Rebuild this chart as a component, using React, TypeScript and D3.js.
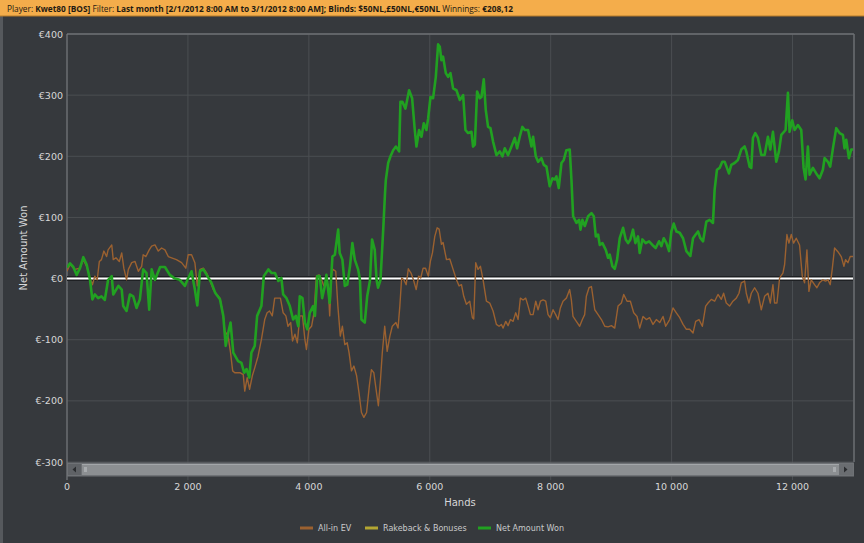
import * as d3 from 'd3'

// Data (hands, euros)
const netAmountWon: [number, number][] = [
  [0, 18], [50, 25], [105, 19], [160, 6], [215, 17], [270, 35], [325, 23], [380, -2], [420, -34], [460, -26],
  [515, -32], [570, -29], [625, -35], [680, -2], [740, 4], [765, -26], [850, -12], [905, -18], [930, -45], [985, -53],
  [1040, -26], [1095, -29], [1150, -48], [1205, -34], [1260, 15], [1315, 9], [1360, -51], [1400, 15], [1455, -2], [1540, 19],
  [1620, 19], [1700, 6], [1785, 0], [1865, -2], [1950, -12], [2005, 1], [2060, 12], [2115, -18], [2155, -44], [2200, 12],
  [2255, 15], [2310, 6], [2390, -7], [2450, -23], [2530, -34], [2585, -61], [2625, -110], [2665, -89], [2705, -72], [2750, -121],
  [2830, -135], [2885, -138], [2930, -154], [2970, -148], [3015, -162], [3050, -121], [3105, -110], [3145, -61], [3215, -45], [3255, 4],
  [3330, 15], [3385, 9], [3440, 9], [3495, -4], [3545, 1], [3575, -26], [3630, -32], [3685, -45], [3740, -67], [3785, -61],
  [3825, -78], [3850, -29], [3895, -32], [3935, -72], [3975, -83], [4015, -56], [4070, -45], [4100, -61], [4140, 4], [4180, 4],
  [4220, -32], [4265, -12], [4290, 6], [4345, -40], [4390, 36], [4430, 39], [4485, 80], [4510, 42], [4555, 31], [4595, -12],
  [4635, -10], [4680, 20], [4720, 58], [4760, 31], [4815, 15], [4845, -2], [4870, -67], [4925, -72], [4965, -29], [5010, -4],
  [5045, 64], [5090, 47], [5120, -2], [5145, -15], [5185, -2], [5230, 80], [5260, 140], [5273, 161], [5312, 189], [5350, 200],
  [5395, 210], [5440, 216], [5493, 208], [5515, 289], [5548, 289], [5598, 278], [5658, 308], [5708, 295], [5752, 243], [5780, 216],
  [5823, 243], [5863, 232], [5901, 254], [5945, 243], [5973, 262], [6012, 297], [6055, 295], [6100, 330], [6138, 383], [6166, 379],
  [6193, 357], [6220, 363], [6265, 336], [6303, 330], [6342, 336], [6386, 311], [6441, 308], [6497, 292], [6552, 300], [6590, 243],
  [6634, 238], [6690, 240], [6716, 216], [6745, 219], [6783, 306], [6827, 295], [6855, 297], [6893, 326], [6926, 276], [6964, 248],
  [7004, 246], [7047, 224], [7103, 202], [7158, 208], [7202, 200], [7240, 213], [7295, 202], [7351, 216], [7406, 230], [7444, 213],
  [7488, 232], [7532, 248], [7571, 243], [7626, 243], [7682, 216], [7709, 232], [7753, 200], [7792, 191], [7847, 197], [7885, 186],
  [7930, 183], [7984, 151], [8028, 164], [8067, 162], [8095, 167], [8133, 148], [8178, 189], [8216, 194], [8260, 210], [8315, 211],
  [8343, 162], [8371, 102], [8426, 91], [8470, 96], [8492, 80], [8525, 96], [8564, 86], [8619, 102], [8674, 107], [8713, 102],
  [8746, 69], [8784, 72], [8812, 55], [8856, 58], [8911, 47], [8949, 34], [8977, 39], [9021, 20], [9060, 16], [9098, 31],
  [9142, 66], [9197, 83], [9241, 64], [9280, 58], [9318, 64], [9362, 80], [9401, 58], [9445, 69], [9472, 42], [9516, 64],
  [9571, 58], [9627, 61], [9682, 55], [9737, 50], [9792, 61], [9831, 53], [9870, 66], [9914, 58], [9958, 45], [9996, 77],
  [10035, 90], [10079, 77], [10134, 75], [10189, 66], [10244, 45], [10310, 37], [10354, 66], [10398, 72], [10437, 77], [10476, 66],
  [10520, 61], [10574, 93], [10629, 96], [10684, 91], [10711, 145], [10750, 178], [10794, 181], [10838, 191], [10877, 191], [10915, 181],
  [10948, 172], [10987, 186], [11042, 189], [11097, 194], [11152, 211], [11207, 216], [11235, 208], [11290, 183], [11318, 181], [11345, 230],
  [11384, 238], [11428, 230], [11483, 202], [11538, 202], [11593, 232], [11632, 211], [11676, 240], [11703, 216], [11731, 191], [11775, 208],
  [11814, 235], [11885, 243], [11924, 304], [11951, 240], [11995, 259], [12034, 243], [12089, 251], [12144, 243], [12183, 181], [12216, 162],
  [12254, 216], [12282, 170], [12337, 181], [12392, 172], [12447, 164], [12502, 178], [12530, 197], [12585, 191], [12623, 183], [12668, 213],
  [12723, 246], [12778, 238], [12833, 235], [12860, 213], [12888, 227], [12932, 197], [12970, 211], [13000, 211],
]

const allInEv: [number, number][] = [
  [0, 12], [50, 23], [130, 15], [215, 17], [270, 31], [325, 20], [380, 1], [420, -10], [460, 4], [500, -2],
  [535, 28], [570, 31], [610, 45], [655, 36], [680, 47], [740, 55], [765, 31], [810, 34], [865, 28], [905, 42],
  [940, 17], [985, -2], [1015, 15], [1070, 26], [1125, 28], [1180, 12], [1235, 20], [1260, 39], [1305, 36], [1360, 47],
  [1400, 53], [1455, 55], [1510, 45], [1565, 50], [1620, 47], [1675, 36], [1730, 34], [1810, 31], [1895, 26], [1965, 17],
  [2005, 39], [2060, 39], [2115, 26], [2155, -12], [2200, 15], [2255, 17], [2310, 9], [2365, -4], [2420, -18], [2475, -26],
  [2530, -32], [2585, -61], [2610, -86], [2665, -94], [2705, -121], [2740, -151], [2775, -154], [2860, -154], [2915, -157], [2940, -184],
  [2980, -162], [3020, -181], [3065, -159], [3105, -146], [3160, -127], [3215, -100], [3270, -67], [3310, -56], [3350, -53], [3395, -61],
  [3435, -32], [3495, -32], [3530, -32], [3575, -56], [3620, -61], [3655, -78], [3700, -72], [3730, -102], [3770, -91], [3810, -105],
  [3850, -61], [3895, -61], [3935, -100], [3960, -116], [4000, -83], [4045, -78], [4085, -56], [4125, 4], [4170, 6], [4210, -2],
  [4250, -12], [4290, -2], [4320, -12], [4345, -61], [4375, 9], [4400, 15], [4445, 12], [4480, -45], [4520, -94], [4555, -78],
  [4595, -108], [4635, -105], [4665, -121], [4705, -151], [4745, -143], [4790, -159], [4830, -187], [4870, -219], [4910, -227], [4955, -219],
  [5000, -176], [5035, -149], [5075, -154], [5120, -187], [5150, -208], [5185, -165], [5215, -121], [5255, -78], [5295, -119], [5340, -94],
  [5380, -78], [5440, -72], [5475, -81], [5505, -45], [5535, 1], [5570, -2], [5610, -10], [5645, 16], [5690, 9], [5730, -2],
  [5775, -18], [5815, 4], [5850, 1], [5890, 17], [5930, 17], [5975, 4], [6010, 28], [6044, 42], [6083, 69], [6122, 83],
  [6155, 81], [6193, 56], [6220, 59], [6276, 31], [6331, 32], [6386, 15], [6441, -2], [6485, -12], [6524, -10], [6562, -29],
  [6606, -42], [6661, -37], [6705, -64], [6727, -66], [6760, 26], [6799, 15], [6838, 20], [6882, -2], [6937, -37], [6992, -40],
  [7047, -53], [7102, -75], [7146, -78], [7185, -75], [7213, -81], [7257, -70], [7295, -77], [7334, -67], [7378, -70], [7422, -56],
  [7461, -67], [7499, -32], [7543, -35], [7587, -32], [7626, -45], [7665, -59], [7709, -59], [7753, -37], [7791, -51], [7830, -37],
  [7874, -35], [7918, -37], [7956, -59], [7995, -64], [8039, -51], [8083, -59], [8121, -67], [8160, -48], [8204, -37], [8259, -32],
  [8314, -18], [8342, -35], [8369, -62], [8424, -70], [8479, -78], [8524, -67], [8562, -59], [8590, -29], [8634, -15], [8674, -13],
  [8729, -51], [8784, -59], [8839, -67], [8894, -78], [8949, -79], [9004, -77], [9059, -81], [9114, -45], [9169, -40], [9208, -26],
  [9263, -37], [9318, -37], [9373, -56], [9428, -62], [9472, -81], [9527, -62], [9582, -67], [9637, -64], [9692, -75], [9747, -67],
  [9803, -72], [9858, -62], [9902, -78], [9968, -67], [10023, -48], [10078, -56], [10134, -64], [10189, -75], [10244, -83], [10299, -83],
  [10354, -89], [10398, -70], [10453, -67], [10508, -78], [10563, -45], [10602, -40], [10657, -34], [10712, -37], [10767, -26], [10822, -34],
  [10860, -24], [10904, -40], [10959, -45], [11014, -37], [11070, -32], [11114, -24], [11152, -7], [11207, -4], [11235, -24], [11279, -40],
  [11318, -24], [11373, -15], [11428, -24], [11483, -51], [11538, -29], [11593, -24], [11632, -40], [11676, -10], [11703, -40], [11742, -40],
  [11786, 1], [11841, 9], [11869, 23], [11907, 72], [11940, 58], [11979, 72], [12017, 58], [12061, 66], [12116, 55], [12161, 4],
  [12199, -7], [12238, 47], [12271, -21], [12309, -2], [12364, -10], [12403, -15], [12447, -7], [12502, -2], [12546, -4], [12585, -2],
  [12623, -10], [12656, 15], [12695, 50], [12750, 44], [12805, 36], [12850, 20], [12877, 31], [12916, 26], [12954, 36], [13000, 36],
]

const rakeback: [number, number][] = [[0, 0], [13000, 0]]

const xTicks = [0, 2000, 4000, 6000, 8000, 10000, 12000]
const yTicks = [-300, -200, -100, 0, 100, 200, 300, 400]

const legendItems = [
  { label: 'All-in EV', color: '#9b6130' },
  { label: 'Rakeback & Bonuses', color: '#b3a632' },
  { label: 'Net Amount Won', color: '#21a121' },
]

const W = 864
const H = 543
const left = 67
const right = 853
const top = 34
const bottom = 462

const x = d3.scaleLinear().domain([0, 13000]).range([left, right])
const y = d3.scaleLinear().domain([-300, 400]).range([bottom, top])

const line = d3
  .line<[number, number]>()
  .x((d) => x(d[0]))
  .y((d) => y(d[1]))

const fmtX = (v: number) => d3.format(',')(v).replace(/,/g, ' ')
const fmtY = (v: number) => `€${v}`

const App = () => {
  const tickFont = "'DejaVu Sans', sans-serif"
  return (
    <div style={{ position: 'fixed', left: 0, top: 0 }}>
      <svg width={W} height={H} style={{ display: 'block' }}>
        <defs>
          <clipPath id="plot">
            <rect x={left} y={top} width={right - left} height={bottom - top} />
          </clipPath>
        </defs>
        <rect x={0} y={0} width={W} height={H} fill="#36393d" />
        <rect x={0} y={16} width={3} height={H - 16} fill="#56595d" />

        {/* header */}
        <rect x={0} y={0} width={W} height={16} fill="#f4ad4b" />
        <line x1={0} x2={W} y1={16} y2={16} stroke="#b57a2a" strokeWidth={1} />
        <text x={7} y={11.5} fontFamily="'Open Sans', sans-serif" fontSize={8.3} fill="#1f1a12">
          <tspan>Player: </tspan>
          <tspan fontWeight="bold">Kwet80 [BOS]</tspan>
          <tspan> Filter: </tspan>
          <tspan fontWeight="bold">Last month [2/1/2012 8:00 AM to 3/1/2012 8:00 AM]; Blinds: $50NL,£50NL,€50NL</tspan>
          <tspan> Winnings: </tspan>
          <tspan fontWeight="bold">€208,12</tspan>
        </text>

        {/* grid */}
        {yTicks.map((t) => (
          <line key={`gy${t}`} x1={left} x2={right} y1={y(t)} y2={y(t)} stroke="#4b4e52" strokeWidth={1} />
        ))}
        {xTicks.map((t) => (
          <line key={`gx${t}`} x1={x(t)} x2={x(t)} y1={top} y2={480} stroke="#4b4e52" strokeWidth={1} />
        ))}
        <line x1={left} x2={right + 1} y1={top} y2={top} stroke="#6c6f73" strokeWidth={1.5} />
        <line x1={right + 1} x2={right + 1} y1={top} y2={bottom} stroke="#6c6f73" strokeWidth={1.5} />
        <line x1={left} x2={left} y1={top} y2={480} stroke="#7b7e82" strokeWidth={1} />

        {/* series */}
        <g clipPath="url(#plot)">
          <path d={line(rakeback) ?? ''} fill="none" stroke="#b3a632" strokeWidth={2} />
          <line x1={left} x2={right} y1={y(0)} y2={y(0)} stroke="#1e2023" strokeWidth={5} />
          <line x1={left} x2={right} y1={y(0)} y2={y(0)} stroke="#ffffff" strokeWidth={2} />
          <path d={line(allInEv) ?? ''} fill="none" stroke="#9b6130" strokeWidth={1.4} strokeLinejoin="round" />
          <path d={line(netAmountWon) ?? ''} fill="none" stroke="#21a121" strokeWidth={2.6} strokeLinejoin="round" />
        </g>

        {/* y labels */}
        {yTicks.map((t) => (
          <text
            key={`ly${t}`}
            x={63}
            y={y(t) + 3.5}
            textAnchor="end"
            fontFamily={tickFont}
            fontSize={9.5}
            fill="#d6d7d8"
          >
            {fmtY(t)}
          </text>
        ))}
        <text
          transform={`translate(27,${(top + bottom) / 2}) rotate(-90)`}
          textAnchor="middle"
          fontFamily={tickFont}
          fontSize={10}
          fill="#d6d7d8"
        >
          Net Amount Won
        </text>

        {/* scrollbar */}
        <rect x={left} y={462.5} width={right - left + 1} height={14} fill="#6f7276" />
        <rect x={left + 15} y={464} width={right - left - 29} height={11} fill="#8c8f92" />
        <line x1={left + 15} x2={right - 14} y1={464.5} y2={464.5} stroke="#a3a6a9" strokeWidth={1} />
        <rect x={left + 1} y={464} width={13} height={11} fill="#5f6266" />
        <rect x={right - 14} y={464} width={14} height={11} fill="#6a6d71" />
        <path d={`M${left + 9},466.5 L${left + 9},472.5 L${left + 5.5},469.5 Z`} fill="#2b2d30" />
        <path d={`M${right - 9},466.5 L${right - 9},472.5 L${right - 5.5},469.5 Z`} fill="#2b2d30" />
        <rect x={left + 17} y={467} width={3} height={5} fill="#a8abae" />
        <rect x={right - 20} y={467} width={3} height={5} fill="#a8abae" />

        {/* x labels */}
        {xTicks.map((t) => (
          <text
            key={`lx${t}`}
            x={x(t)}
            y={489.5}
            textAnchor="middle"
            fontFamily={tickFont}
            fontSize={9.5}
            fill="#d6d7d8"
          >
            {fmtX(t)}
          </text>
        ))}
        <text x={(left + right) / 2} y={506} textAnchor="middle" fontFamily={tickFont} fontSize={10} fill="#d6d7d8">
          Hands
        </text>

        {/* legend */}
        {legendItems.map((d, i) => {
          const lx = [300, 365, 478][i]
          return (
            <g key={d.label}>
              <line x1={lx} x2={lx + 13} y1={528} y2={528} stroke={d.color} strokeWidth={3} />
              <text x={lx + 18} y={531} fontFamily={tickFont} fontSize={8} fill="#c9cacb">
                {d.label}
              </text>
            </g>
          )
        })}
      </svg>
    </div>
  )
}

export default App
